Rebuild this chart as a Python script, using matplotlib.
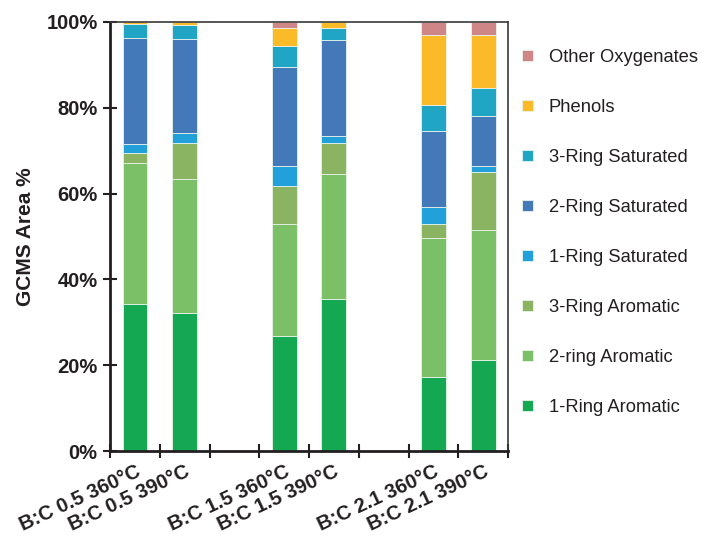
import numpy as np
import matplotlib.pyplot as plt

plt.rcParams['font.family'] = ['Liberation Sans', 'DejaVu Sans']

# categories (blank slots are the gaps between groups)
categorias = ['B:C 0.5 360°C', 'B:C 0.5 390°C', '', 'B:C 1.5 360°C', 'B:C 1.5 390°C', '',
              'B:C 2.1 360°C', 'B:C 2.1 390°C']

series = ['1-Ring Aromatic', '2-ring Aromatic', '3-Ring Aromatic', '1-Ring Saturated',
          '2-Ring Saturated', '3-Ring Saturated', 'Phenols', 'Other Oxygenates']

# % de area GCMS por serie (una entrada por categoria, None = hueco)
anillo1_arom = [34.3, 32.1, None, 26.8, 35.4, None, 17.3, 21.3]
anillo2_arom = [32.8, 31.3, None, 26.0, 29.1, None, 32.3, 30.1]
anillo3_arom = [2.4, 8.4, None, 9.0, 7.3, None, 3.2, 13.7]
anillo1_sat = [2.0, 2.3, None, 4.6, 1.6, None, 4.0, 1.4]
anillo2_sat = [24.7, 21.9, None, 23.0, 22.5, None, 17.7, 11.7]
anillo3_sat = [3.3, 3.4, None, 5.1, 2.8, None, 6.1, 6.5]
fenoles = [0.5, 0.6, None, 4.2, 1.3, None, 16.4, 12.3]
otros_oxig = [0.0, 0.0, None, 1.3, 0.0, None, 3.0, 3.0]

colores = ['#14a853', '#7bbf66', '#8ab362', '#22a0da', '#4479b9', '#20a6c4', '#fbbb28', '#cf8686']

datos = [anillo1_arom, anillo2_arom, anillo3_arom, anillo1_sat,
         anillo2_sat, anillo3_sat, fenoles, otros_oxig]

fig = plt.figure(figsize=(7.06, 5.43), dpi=100)
ax = fig.add_axes([0.156, 0.1694, 0.5635, 0.7901])

x = np.arange(len(categorias))
base = np.zeros(len(categorias))
for nombre, valores, color in zip(series, datos, colores):
    v = np.array([0 if val is None else val for val in valores], dtype=float)
    ax.bar(x, v, bottom=base, width=0.5, color=color, edgecolor='#e8f3ea',
           linewidth=0.6, label=nombre)
    base = base + v

ax.set_xlim(-0.5, len(categorias) - 0.5)
ax.set_ylim(0, 100)
ax.set_yticks(np.arange(0, 101, 20))
ax.set_yticklabels(['%d%%' % t for t in range(0, 101, 20)], fontsize=14.5, fontweight='bold',
                   color='#231f20')
ax.set_xticks(x)
ax.set_xticklabels(categorias, rotation=25, ha='right', rotation_mode='anchor',
                   fontsize=14.5, fontweight='bold', color='#231f20')
# marcas de division entre categorias
ax.set_xticks(np.arange(-0.5, len(categorias), 1), minor=True)
ax.tick_params(axis='x', which='major', length=0, pad=8)
ax.tick_params(axis='x', which='minor', direction='inout', length=10, width=1.5, color='#231f20')
ax.tick_params(axis='y', direction='inout', length=10, width=1.5, color='#231f20', pad=4)

for lado in ['left', 'bottom']:
    ax.spines[lado].set_linewidth(2)
    ax.spines[lado].set_color('#231f20')
for lado in ['top', 'right']:
    ax.spines[lado].set_linewidth(1.2)
    ax.spines[lado].set_color('#3a3a3a')

ax.set_ylabel('GCMS Area %', fontsize=15, fontweight='bold', color='#231f20', labelpad=8)

h, l = ax.get_legend_handles_labels()
fig.legend(h[::-1], l[::-1], loc='upper left', bbox_to_anchor=(0.716, 0.94), frameon=False,
           fontsize=13.2, handlelength=0.6, handleheight=0.6, handletextpad=0.85,
           labelspacing=1.8, labelcolor='#231f20')

fig.savefig('out.png', dpi=100)
